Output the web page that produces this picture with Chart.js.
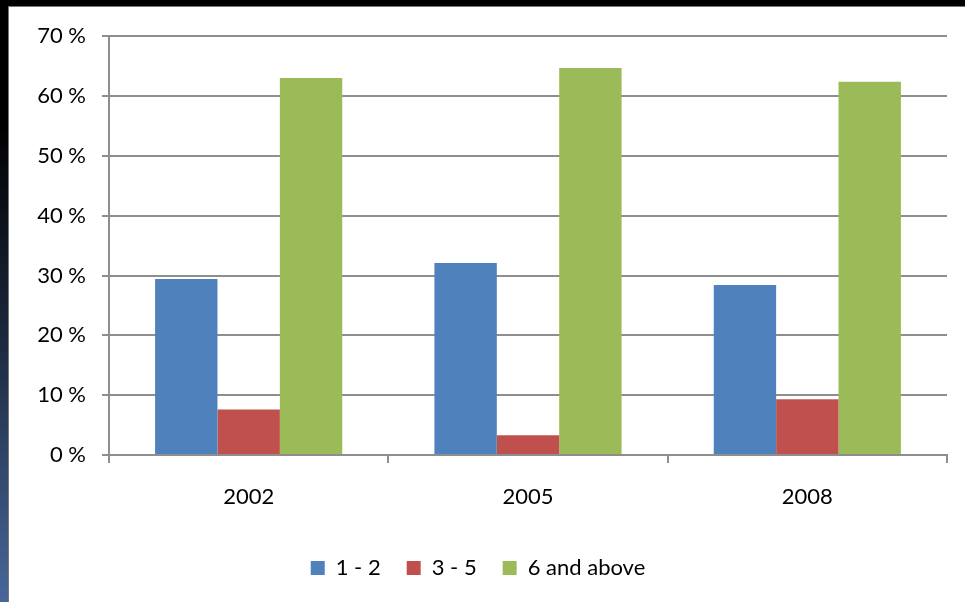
<!DOCTYPE html>
<html>
<head>
<meta charset="utf-8">
<script src="https://cdn.jsdelivr.net/npm/chart.js@4/dist/chart.umd.min.js"></script>
<style>
  html, body { margin: 0; padding: 0; }
  body { width: 965px; height: 602px; background: #000; position: relative; overflow: hidden; }
  #side { position: absolute; left: 0; top: 0; width: 8px; height: 602px;
          background: linear-gradient(#000 0%, #000 20%, #1b273b 55%, #48679a 100%); }
  #frame { position: absolute; left: 8px; top: 6px; width: 957px; height: 596px; background: #fff;
           border-left: 1px solid #777; border-top: 1px solid #777; box-sizing: border-box; }
  #wrap { position: absolute; left: 0; top: 0; width: 956px; height: 595px; }
</style>
</head>
<body>
<div id="side"></div>
<div id="frame"><div id="wrap"><canvas id="chart"></canvas></div></div>
<script>
// values, in percent
const years = ["2002", "2005", "2008"]
const oneToTwo = [29.4, 32.1, 28.4]
const threeToFive = [7.6, 3.3, 9.3]
const sixAndAbove = [63.0, 64.7, 62.4]
const seriesNames = ["1 - 2", "3 - 5", "6 and above"]

const fontFamily = "Lato, 'Open Sans', sans-serif"
const gridColor = "#8e8e8e"

const ctx = document.getElementById("chart")
const chart = new Chart(ctx, {
    type: "bar",
    data: {
        labels: years,
        datasets: [
            { label: seriesNames[0], data: oneToTwo, backgroundColor: "#4f81bd" },
            { label: seriesNames[1], data: threeToFive, backgroundColor: "#c0504d" },
            { label: seriesNames[2], data: sixAndAbove, backgroundColor: "#9bbb59" }
        ]
    },
    options: {
        responsive: true,
        maintainAspectRatio: false,
        animation: false,
        categoryPercentage: 0.67,
        barPercentage: 1,
        layout: { padding: { top: 28, right: 18, left: 0, bottom: 13 } },
        plugins: {
            tooltip: { enabled: false },
            legend: {
                position: "bottom",
                labels: {
                    boxWidth: 14, boxHeight: 14, padding: 26,
                    color: "#000",
                    font: { family: fontFamily, size: 22 }
                }
            }
        },
        scales: {
            x: {
                grid: { drawOnChartArea: false, color: gridColor, lineWidth: 2, tickLength: 8 },
                border: { color: gridColor, width: 2 },
                ticks: { color: "#000", padding: 21, font: { family: fontFamily, size: 22 } },
                afterFit: (axis) => { axis.height = 76 }
            },
            y: {
                min: 0,
                max: 70,
                ticks: {
                    stepSize: 10,
                    color: "#000",
                    padding: 16,
                    font: { family: fontFamily, size: 22 },
                    callback: (v) => v + " %"
                },
                grid: { color: gridColor, lineWidth: 2, tickLength: 7 },
                border: { color: gridColor, width: 2 },
                afterFit: (axis) => { axis.width = 100 }
            }
        }
    }
})
</script>
</body>
</html>
